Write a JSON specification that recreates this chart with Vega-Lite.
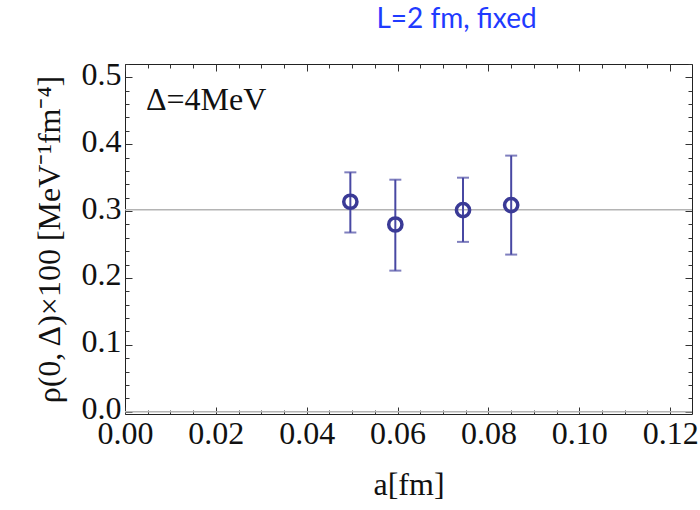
{
  "$schema": "https://vega.github.io/schema/vega-lite/v6.json",
  "autosize": "none",
  "width": 567,
  "height": 350,
  "padding": {"left": 125, "top": 64, "right": 8, "bottom": 96},
  "background": "white",
  "config": {
    "view": {"stroke": "#222222", "strokeWidth": 1},
    "axis": {"domain": false, "grid": false, "tickColor": "#333333", "labelFont": "Liberation Serif", "labelFontSize": 32, "labelColor": "#111111", "titleFont": "Liberation Serif", "titleFontSize": 32, "titleFontWeight": "normal", "titleColor": "#111111", "labelFlush": false}
  },
  "title": {"text": "L=2 fm, fixed", "font": "Lato", "fontSize": 28, "fontWeight": "normal", "color": "#1f3bff", "anchor": "middle", "dx": 48, "offset": 24},
  "datasets": {
    "pts": [
      {"a": 0.0496, "rho": 0.314, "lo": 0.268, "hi": 0.358},
      {"a": 0.0595, "rho": 0.280, "lo": 0.211, "hi": 0.347},
      {"a": 0.0744, "rho": 0.3015, "lo": 0.254, "hi": 0.350},
      {"a": 0.0850, "rho": 0.309, "lo": 0.235, "hi": 0.383}
    ],
    "lines": [
      {"v": 0.3022, "kind": "fit"},
      {"v": 0.0, "kind": "axis"}
    ],
    "note": [{"a": 0.0046, "rho": 0.466, "label": "Δ=4MeV"}]
  },
  "resolve": {"axis": {"x": "independent", "y": "independent"}},
  "layer": [
    {
      "data": {"name": "pts"},
      "mark": {"type": "point", "opacity": 0},
      "encoding": {
        "x": {"field": "a", "type": "quantitative", "scale": {"domain": [0, 0.1248], "nice": false, "zero": false},
              "axis": {"orient": "bottom", "values": [0, 0.02, 0.04, 0.06, 0.08, 0.1, 0.12], "format": ".2f", "tickSize": -7, "labelPadding": 11, "labelFlush": false, "labelOverlap": false, "labelFont": "Liberation Serif", "labelFontSize": 32, "title": "a[fm]", "titlePadding": 20}},
        "y": {"field": "rho", "type": "quantitative", "scale": {"domain": [-0.0034, 0.52], "nice": false, "zero": false},
              "axis": {"orient": "left", "values": [0, 0.1, 0.2, 0.3, 0.4, 0.5], "format": ".1f", "tickSize": -7, "labelPadding": 11, "labelOffset": -3, "labelFlush": false, "labelOverlap": false, "labelFont": "Liberation Serif", "labelFontSize": 32, "title": "ρ(0, Δ)×100 [MeV⁻¹fm⁻⁴]", "titlePadding": 15}}
      }
    },
    {
      "data": {"name": "pts"},
      "mark": {"type": "point", "opacity": 0},
      "encoding": {
        "x": {"field": "a", "type": "quantitative", "axis": {"orient": "bottom", "values": [0.005, 0.01, 0.015, 0.025, 0.03, 0.035, 0.045, 0.05, 0.055, 0.065, 0.07, 0.075, 0.085, 0.09, 0.095, 0.105, 0.11, 0.115], "tickSize": -4, "labels": false, "title": null}},
        "y": {"field": "rho", "type": "quantitative", "axis": {"orient": "left", "values": [0.02, 0.04, 0.06, 0.08, 0.12, 0.14, 0.16, 0.18, 0.22, 0.24, 0.26, 0.28, 0.32, 0.34, 0.36, 0.38, 0.42, 0.44, 0.46, 0.48, 0.52], "tickSize": -4, "labels": false, "title": null}}
      }
    },
    {
      "data": {"name": "pts"},
      "mark": {"type": "point", "opacity": 0},
      "encoding": {
        "x": {"field": "a", "type": "quantitative", "axis": {"orient": "top", "values": [0, 0.02, 0.04, 0.06, 0.08, 0.1, 0.12], "tickSize": -7, "labels": false, "title": null}},
        "y": {"field": "rho", "type": "quantitative", "axis": {"orient": "right", "values": [0, 0.1, 0.2, 0.3, 0.4, 0.5], "tickSize": -7, "labels": false, "title": null}}
      }
    },
    {
      "data": {"name": "pts"},
      "mark": {"type": "point", "opacity": 0},
      "encoding": {
        "x": {"field": "a", "type": "quantitative", "axis": {"orient": "top", "values": [0.005, 0.01, 0.015, 0.025, 0.03, 0.035, 0.045, 0.05, 0.055, 0.065, 0.07, 0.075, 0.085, 0.09, 0.095, 0.105, 0.11, 0.115], "tickSize": -4, "labels": false, "title": null}},
        "y": {"field": "rho", "type": "quantitative", "axis": {"orient": "right", "values": [0.02, 0.04, 0.06, 0.08, 0.12, 0.14, 0.16, 0.18, 0.22, 0.24, 0.26, 0.28, 0.32, 0.34, 0.36, 0.38, 0.42, 0.44, 0.46, 0.48, 0.52], "tickSize": -4, "labels": false, "title": null}}
      }
    },
    {
      "data": {"name": "lines"},
      "mark": {"type": "rule", "color": "#b4b4b4", "strokeWidth": 1.5},
      "encoding": {
        "y": {"field": "v", "type": "quantitative", "axis": null}
      }
    },
    {
      "data": {"name": "pts"},
      "mark": {"type": "rule", "color": "#4848a3", "strokeWidth": 2},
      "encoding": {
        "x": {"field": "a", "type": "quantitative", "axis": null},
        "y": {"field": "lo", "type": "quantitative", "axis": null},
        "y2": {"field": "hi"}
      }
    },
    {
      "data": {"name": "pts"},
      "mark": {"type": "tick", "orient": "horizontal", "color": "#4848a3", "size": 12, "thickness": 2},
      "encoding": {
        "x": {"field": "a", "type": "quantitative", "axis": null},
        "y": {"field": "lo", "type": "quantitative", "axis": null}
      }
    },
    {
      "data": {"name": "pts"},
      "mark": {"type": "tick", "orient": "horizontal", "color": "#4848a3", "size": 12, "thickness": 2},
      "encoding": {
        "x": {"field": "a", "type": "quantitative", "axis": null},
        "y": {"field": "hi", "type": "quantitative", "axis": null}
      }
    },
    {
      "data": {"name": "pts"},
      "mark": {"type": "point", "shape": "circle", "filled": false, "color": "#3a3a96", "strokeWidth": 3.5, "size": 175, "opacity": 1},
      "encoding": {
        "x": {"field": "a", "type": "quantitative", "axis": null},
        "y": {"field": "rho", "type": "quantitative", "axis": null}
      }
    },
    {
      "data": {"name": "note"},
      "mark": {"type": "text", "align": "left", "baseline": "middle", "font": "Liberation Serif", "fontSize": 32, "color": "#111111"},
      "encoding": {
        "x": {"field": "a", "type": "quantitative", "axis": null},
        "y": {"field": "rho", "type": "quantitative", "axis": null},
        "text": {"field": "label"}
      }
    }
  ]
}
